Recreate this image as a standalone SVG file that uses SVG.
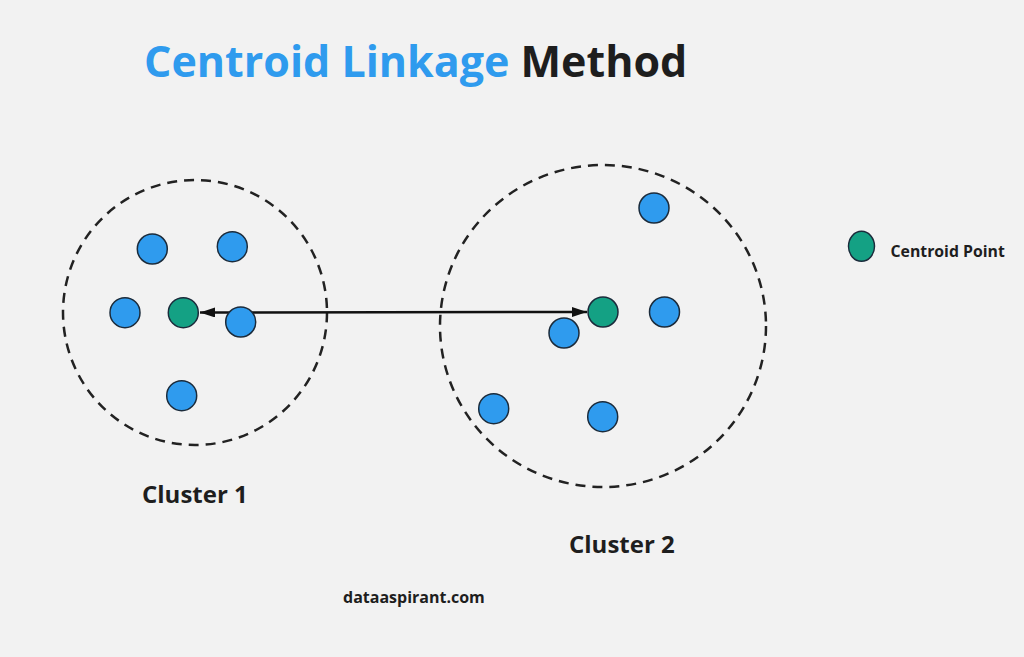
<svg xmlns="http://www.w3.org/2000/svg" width="1024" height="657" viewBox="0 0 1024 657">
<defs>
<style>
.bg{fill:#f2f2f2}
.cl{fill:none;stroke:#222;stroke-width:2.5;stroke-dasharray:10 7}
.pt{fill:#2f9bee;stroke:#1b2b3b;stroke-width:1.5}
.ct{fill:#14a184;stroke:#1b2b3b;stroke-width:1.5}
.lb{font-family:"Open Sans","Liberation Sans",sans-serif;font-weight:bold;fill:#1e1e1e}
.ln{stroke:#111;stroke-width:2.5;fill:none}
</style>
<marker id="ah" viewBox="0 0 15 10" refX="15" refY="5" markerWidth="15" markerHeight="10" markerUnits="userSpaceOnUse" orient="auto-start-reverse">
<path d="M0,0 L15,5 L0,10 Z" fill="#111"/>
</marker>
</defs>
<rect class="bg" x="0" y="0" width="1024" height="657"/>
<g id="title">
<text class="lb" x="144" y="77" font-size="43"><tspan fill="#2f9bee">Centroid Linkage</tspan> Method</text>
</g>
<g id="cluster1-boundary"><ellipse class="cl" cx="195" cy="312.5" rx="132" ry="132.5"/></g>
<g id="cluster2-boundary"><ellipse class="cl" cx="603" cy="326" rx="163" ry="161"/></g>
<g id="connectors">
<line class="ln" x1="200" y1="312.5" x2="587" y2="312" marker-start="url(#ah)" marker-end="url(#ah)"/>
</g>
<g id="cluster1-points">
<circle class="pt" cx="152.3" cy="249" r="15"/>
<circle class="pt" cx="232.3" cy="246.7" r="15"/>
<circle class="pt" cx="125" cy="312.7" r="15"/>
<circle class="ct" id="centroid1" cx="183.3" cy="312.7" r="15"/>
<circle class="pt" cx="240.7" cy="322" r="15"/>
<circle class="pt" cx="181.7" cy="395.7" r="15"/>
</g>
<g id="cluster2-points">
<circle class="pt" cx="654" cy="208" r="15"/>
<circle class="ct" id="centroid2" cx="603" cy="312" r="15"/>
<circle class="pt" cx="664.5" cy="312" r="15"/>
<circle class="pt" cx="564" cy="333" r="15"/>
<circle class="pt" cx="493.7" cy="408.7" r="15"/>
<circle class="pt" cx="602.7" cy="416.7" r="15"/>
</g>
<g id="legend">
<ellipse class="ct" cx="861.5" cy="246.3" rx="13" ry="15"/>
<text class="lb" x="890.5" y="256.7" font-size="15.8">Centroid Point</text>
</g>
<g id="label-cluster1"><text class="lb" x="142" y="503" font-size="24">Cluster 1</text></g>
<g id="label-cluster2"><text class="lb" x="569" y="553" font-size="24">Cluster 2</text></g>
<g id="credit"><text class="lb" x="343" y="603" font-size="16">dataaspirant.com</text></g>
</svg>
